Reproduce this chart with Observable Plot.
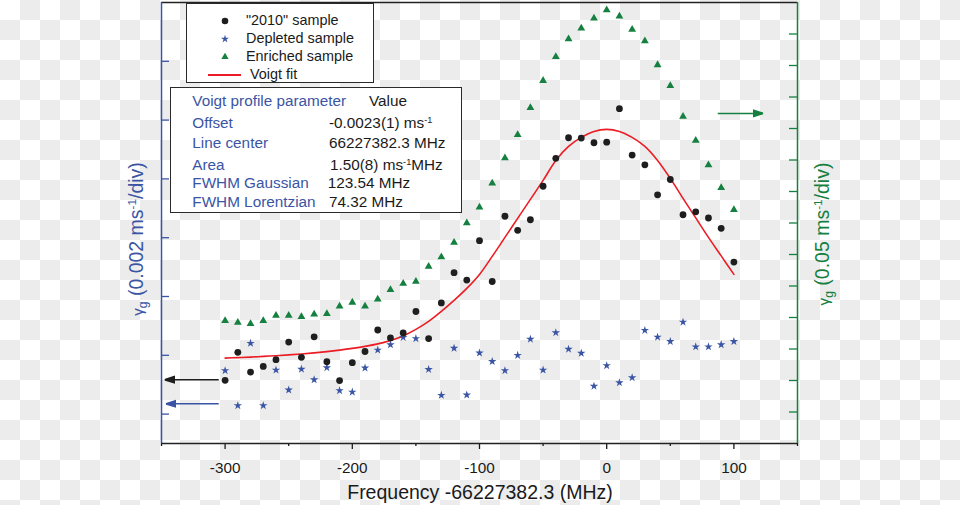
<!DOCTYPE html>
<html><head><meta charset="utf-8">
<script src="https://cdn.jsdelivr.net/npm/d3@7"></script>
<script src="https://cdn.jsdelivr.net/npm/@observablehq/plot@0.6"></script>
<style>
html,body{margin:0;padding:0;overflow:hidden}
body{width:960px;height:505px;background-color:#fff;background-image:conic-gradient(#ececec 25%,#fff 0 50%,#ececec 0 75%,#fff 0);background-size:40px 40px;font-family:"Liberation Sans",Arial,Helvetica,sans-serif;color:#1a1a1a}
#wrap{position:relative;width:960px;height:505px}
#chart svg{display:block}
.box{position:absolute;background:#fff;border:1.5px solid #2a2a2a;box-sizing:border-box}
.t{position:absolute;white-space:nowrap;line-height:18px}
.lg{font-size:14.4px}
.tb{font-size:15.3px}
.bl{color:#3a55a4}
sup{font-size:0.6em;vertical-align:0.6em;line-height:0}
sub{font-size:0.62em;vertical-align:-0.35em;line-height:0}
.ax{position:absolute;white-space:nowrap;font-size:19.5px;line-height:22px;transform:translate(-50%,-50%) rotate(-90deg)}
.gam{font-size:0.78em}
</style></head>
<body>
<div id="wrap">
  <div id="chart"></div>
</div>
<script>
// ---- data ----
const freq = [-300,-290,-280,-270,-260,-250,-240,-230,-220,-210,-200,-190,-180,-170,-160,-150,-140,-130,-120,-110,-100,-90,-80,-70,-60,-50,-40,-30,-20,-10,0,10,20,30,40,50,60,70,80,90,100];
// left axis, units of 1e-3 ms^-1
const sample2010 = [1.15,2.10,1.43,1.62,1.85,2.45,1.93,2.63,1.78,1.14,1.75,2.13,2.86,2.59,2.76,3.49,2.57,3.78,4.81,4.56,5.90,4.51,6.73,6.25,6.61,7.75,8.70,9.40,9.39,9.23,9.25,10.39,8.81,8.48,7.46,7.98,6.78,6.88,6.67,6.32,5.17];
const depleted = [1.48,0.29,2.41,0.29,1.50,0.82,1.53,1.17,1.58,0.80,0.75,1.57,2.18,2.36,2.61,2.57,1.52,0.64,2.24,0.65,2.08,1.79,1.48,2.00,2.55,1.50,2.77,2.21,2.07,0.95,1.65,1.07,1.24,2.85,2.62,2.47,3.13,2.29,2.29,2.36,2.47];
const voigtFit = [1.905,1.922,1.939,1.963,1.986,2.014,2.044,2.082,2.126,2.177,2.235,2.303,2.388,2.507,2.660,2.881,3.153,3.493,3.867,4.276,4.752,5.364,6.010,6.657,7.303,7.949,8.629,9.106,9.412,9.616,9.684,9.616,9.412,9.106,8.629,8.017,7.337,6.674,6.010,5.381,4.752];
// right axis, ms^-1
const enriched = [0.195,0.192,0.190,0.195,0.203,0.203,0.201,0.205,0.206,0.218,0.224,0.218,0.229,0.244,0.254,0.257,0.281,0.296,0.319,0.350,0.375,0.413,0.453,0.490,0.533,0.576,0.614,0.642,0.659,0.675,0.688,0.678,0.657,0.639,0.601,0.568,0.519,0.481,0.442,0.406,0.371];
// ticks
const xMajor = [-300,-200,-100,0,100];
const xMinor = [-350,-250,-150,-50,50,150];
const leftTicks = [0,2,4,6,8,10,12];
const rightTicks = [0.05,0.10,0.15,0.20,0.25,0.30,0.35,0.40,0.45,0.50,0.55,0.60,0.65];
// axis-pointing arrows
const arrowBlack = [{x1:-305, x2:-347.5, y:1.17}];
const arrowBlue = [{x1:-305, x2:-346.5, y:0.35}];
const arrowGreen = [{x1:87.3, x2:123, r:0.524}];

const blue = "#3a55a4", green = "#15803f", red = "#ec1c24", black = "#1e1e1e";
const leftDomain = [-1, 14], rightMax = 0.7;
const toLeft = r => leftDomain[0] + r * (leftDomain[1] - leftDomain[0]) / rightMax;

const rows = freq.map((f, i) => ({f, s2010: sample2010[i], dep: depleted[i], enr: toLeft(enriched[i]), fit: voigtFit[i]}));

function filledArrow(color) {
  return d3.create("svg:marker")
    .attr("viewBox", "0 -5 10 10").attr("refX", 10).attr("refY", 0)
    .attr("markerWidth", 7).attr("markerHeight", 7).attr("orient", "auto")
    .call(m => m.append("path").attr("d", "M0,-3.2L10,0L0,3.2Z").attr("fill", color))
    .node();
}

const plot = Plot.plot({
  width: 960, height: 505,
  marginLeft: 161, marginRight: 163, marginTop: 2, marginBottom: 62,
  style: {background: "transparent", fontFamily: "'Liberation Sans', Arial, sans-serif", color: "#1a1a1a", overflow: "visible"},
  x: {domain: [-350, 150]},
  y: {domain: leftDomain, axis: null},
  marks: [
    Plot.ruleY([leftDomain[1]], {stroke: "#222", strokeWidth: 1.5}),
    Plot.ruleX([-350], {stroke: blue, strokeWidth: 1.5}),
    Plot.ruleX([150], {stroke: green, strokeWidth: 1.5}),
    Plot.tickY(leftTicks, {y: d => d, stroke: blue, strokeWidth: 1.3, insetRight: 628}),
    Plot.tickY(rightTicks, {y: d => toLeft(d), stroke: green, strokeWidth: 1.3, insetLeft: 628}),
    Plot.axisX(xMajor, {tickSize: 6, tickPadding: 13, fontSize: 15.3, tickFormat: d => `${d}`, label: null, strokeWidth: 1.3}),
    Plot.axisX(xMinor, {tickSize: 3, tickFormat: () => "", label: null, strokeWidth: 1.3}),
    Plot.ruleY([leftDomain[0]], {stroke: "#222", strokeWidth: 1.5}),
    Plot.line(rows, {x: "f", y: "fit", stroke: red, strokeWidth: 1.6, curve: "catmull-rom"}),
    Plot.dot(rows, {x: "f", y: "enr", symbol: "triangle", r: 2.9, fill: green}),
    Plot.dot(rows, {x: "f", y: "dep", symbol: "star", r: 2.65, fill: blue}),
    Plot.dot(rows, {x: "f", y: "s2010", r: 3.4, fill: black}),
    Plot.link(arrowBlack, {x1: "x1", x2: "x2", y1: "y", y2: "y", stroke: black, strokeWidth: 1.5, markerEnd: filledArrow}),
    Plot.link(arrowBlue, {x1: "x1", x2: "x2", y1: "y", y2: "y", stroke: blue, strokeWidth: 1.5, markerEnd: filledArrow}),
    Plot.link(arrowGreen, {x1: "x1", x2: "x2", y1: d => toLeft(d.r), y2: d => toLeft(d.r), stroke: green, strokeWidth: 1.5, markerEnd: filledArrow})
  ]
});
document.getElementById("chart").appendChild(plot);

// ---- overlays: legend, parameter table, axis titles ----
const wrap = document.getElementById("wrap");
function add(html) { wrap.insertAdjacentHTML("beforeend", html); }
const sym = (type, r, color) => `<svg width="12" height="12" viewBox="-6 -6 12 12" style="position:absolute"><path d="${d3.symbol(type, Math.PI * r * r)()}" fill="${color}"/></svg>`;

add(`<div class="box" style="left:186px;top:3px;width:188px;height:80px"></div>`);
const legendItems = [
  {label: '"2010" sample', type: d3.symbolCircle, r: 3.3, color: black, yc: 21},
  {label: "Depleted sample", type: d3.symbolStar, r: 2.5, color: blue, yc: 39},
  {label: "Enriched sample", type: d3.symbolTriangle, r: 2.7, color: green, yc: 57}
];
for (const it of legendItems) {
  add(`<div style="position:absolute;left:219px;top:${it.yc - 6}px;width:12px;height:12px">${sym(it.type, it.r, it.color)}</div>`);
  add(`<div class="t lg" style="left:246px;top:${it.yc - 10}px">${it.label}</div>`);
}
add(`<div style="position:absolute;left:208px;top:74px;width:33px;height:1.6px;background:${red}"></div>`);
add(`<div class="t lg" style="left:250px;top:64.5px">Voigt fit</div>`);

add(`<div class="box" style="left:170px;top:87px;width:292px;height:126px"></div>`);
const tableRows = [
  {label: "Voigt profile parameter", value: "Value", vx: 369, yc: 102.3},
  {label: "Offset", value: "-0.0023(1) ms<sup>-1</sup>", vx: 329, yc: 124.3},
  {label: "Line center", value: "66227382.3 MHz", vx: 329, yc: 144},
  {label: "Area", value: "1.50(8) ms<sup>-1</sup>MHz", vx: 330, yc: 165.7},
  {label: "FWHM Gaussian", value: "123.54 MHz", vx: 327.7, yc: 184.3},
  {label: "FWHM Lorentzian", value: "74.32 MHz", vx: 329, yc: 203.3}
];
for (const r of tableRows) {
  add(`<div class="t tb bl" style="left:192.3px;top:${r.yc - 10}px">${r.label}</div>`);
  add(`<div class="t tb" style="left:${r.vx}px;top:${r.yc - 10}px">${r.value}</div>`);
}

add(`<div class="ax" style="left:137px;top:239px;color:${blue}"><span class="gam">γ</span><sub>g</sub> (0.002 ms<sup>-1</sup>/div)</div>`);
add(`<div class="ax" style="left:823px;top:234px;color:${green}"><span class="gam">γ</span><sub>g</sub> (0.05 ms<sup>-1</sup>/div)</div>`);
add(`<div style="position:absolute;left:0;width:960px;top:481.7px;text-align:center;font-size:19.5px;line-height:20px;white-space:nowrap">Frequency -66227382.3 (MHz)</div>`);
</script>
</body></html>
